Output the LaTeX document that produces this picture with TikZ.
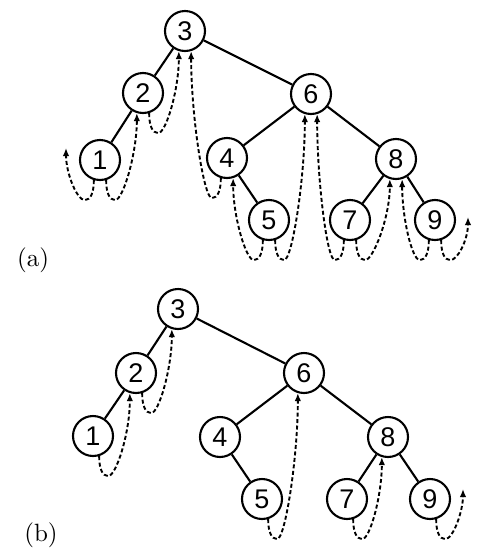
\documentclass[tikz,border=0pt]{standalone}
\usepackage{fontspec}
\newfontfamily\nodefont{Liberation Sans}
\newfontfamily\labfont[Extension=.otf]{lmroman10-regular}
\usetikzlibrary{arrows.meta,calc}
\newcommand\rthr[3]{\draw[thread] (#1.-73) .. controls +(0,12) and +(-6,0) .. ($(#1.-73)+(9,20)$) .. controls +(8,0) and +(0,#3) .. (#2);}
\newcommand\lthr[3]{\draw[thread] (#1.-107) .. controls +(0,12) and +(6,0) .. ($(#1.-107)+(-9,20)$) .. controls +(-8,0) and +(0,#3) .. (#2);}
\begin{document}
\begin{tikzpicture}[x=1pt,y=-1pt,
  tn/.style={circle,draw,line width=2.1pt,minimum size=40pt,inner sep=0pt,font=\nodefont\fontsize{27}{27}\selectfont},
  edge/.style={line width=2.1pt},
  thread/.style={line width=1.9pt,dash pattern=on 4pt off 2.5pt,-{Latex[length=8pt,width=6.5pt]}},
  lab/.style={font=\labfont\fontsize{25}{25}\selectfont}]
\useasboundingbox (0,0) rectangle (480,555);
% tree (a)
\node[tn] (a3) at (185,31) {3};
\node[tn] (a2) at (143,93) {2};
\node[tn] (a1) at (100,160) {1};
\node[tn] (a6) at (311,94) {6};
\node[tn] (a4) at (227,158) {4};
\node[tn] (a8) at (396,159) {8};
\node[tn] (a5) at (269,220) {5};
\node[tn] (a7) at (350,220) {7};
\node[tn] (a9) at (435,220) {9};
\draw[edge] (a3) -- (a2);
\draw[edge] (a2) -- (a1);
\draw[edge] (a3) -- (a6);
\draw[edge] (a6) -- (a4);
\draw[edge] (a6) -- (a8);
\draw[edge] (a4) -- (a5);
\draw[edge] (a8) -- (a7);
\draw[edge] (a8) -- (a9);
\coordinate (fa1) at (66,148);
\coordinate (fa9) at (468,217);
\lthr{a1}{fa1}{25}
\rthr{a1}{a2.-107}{40}
\rthr{a2}{a3.-107}{38}
\lthr{a4}{a3.-73}{65}
\lthr{a5}{a4.-73}{38}
\rthr{a5}{a6.-107}{65}
\lthr{a7}{a6.-73}{65}
\rthr{a7}{a8.-107}{38}
\lthr{a9}{a8.-73}{38}
\rthr{a9}{fa9}{22}
\node[lab] (la) at (33,260) {(a)};
% tree (b)
\node[tn] (b3) at (178,309) {3};
\node[tn] (b2) at (136,373) {2};
\node[tn] (b1) at (93,436) {1};
\node[tn] (b6) at (304,373) {6};
\node[tn] (b4) at (220,437) {4};
\node[tn] (b8) at (388,437) {8};
\node[tn] (b5) at (262,499) {5};
\node[tn] (b7) at (347,499) {7};
\node[tn] (b9) at (430,499) {9};
\draw[edge] (b3) -- (b2);
\draw[edge] (b2) -- (b1);
\draw[edge] (b3) -- (b6);
\draw[edge] (b6) -- (b4);
\draw[edge] (b6) -- (b8);
\draw[edge] (b4) -- (b5);
\draw[edge] (b8) -- (b7);
\draw[edge] (b8) -- (b9);
\coordinate (fb9) at (463,489);
\rthr{b1}{b2.-107}{40}
\rthr{b2}{b3.-107}{38}
\rthr{b5}{b6.-107}{65}
\rthr{b7}{b8.-107}{38}
\rthr{b9}{fb9}{22}
\node[lab] (lb) at (41,535) {(b)};
\end{tikzpicture}
\end{document}
